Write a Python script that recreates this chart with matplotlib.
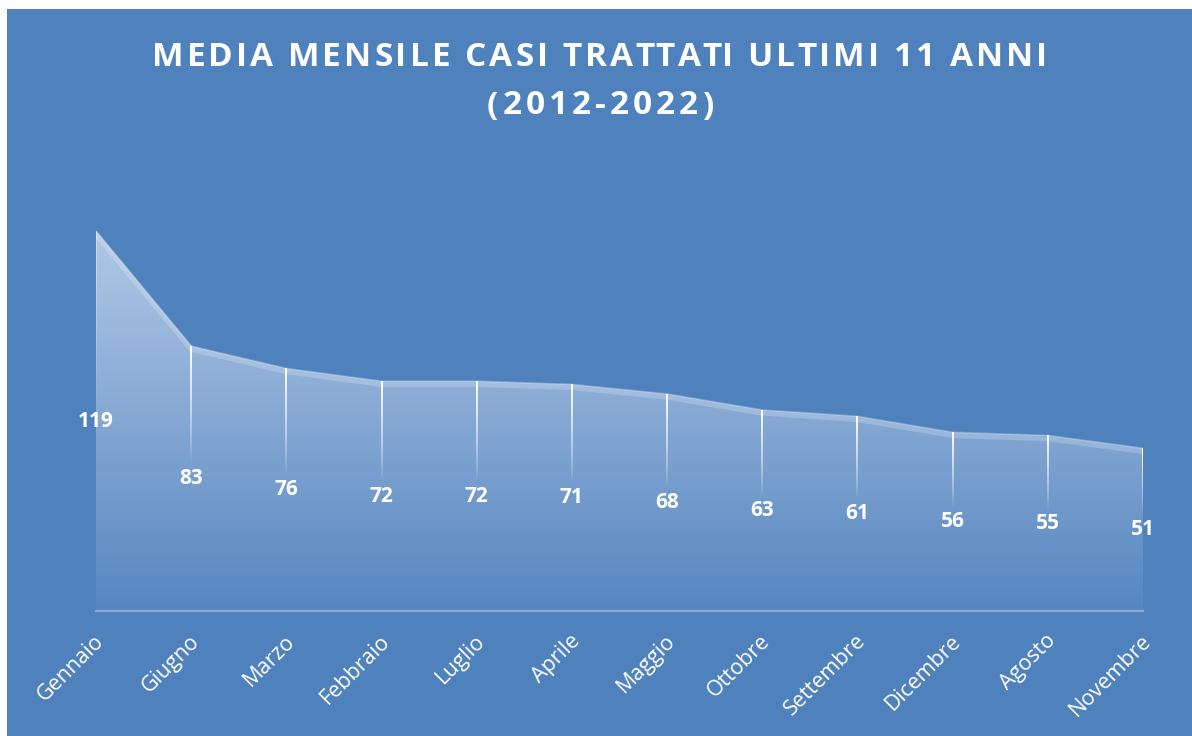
import matplotlib
matplotlib.use('Agg')
import matplotlib.pyplot as plt
import numpy as np
from matplotlib.collections import LineCollection
from matplotlib.patches import Rectangle
from matplotlib.font_manager import FontProperties
import matplotlib.transforms as mtransforms

months = ["Gennaio", "Giugno", "Marzo", "Febbraio", "Luglio", "Aprile",
          "Maggio", "Ottobre", "Settembre", "Dicembre", "Agosto", "Novembre"]
values = [119, 83, 76, 72, 72, 71, 68, 63, 61, 56, 55, 51]
title_lines = ["MEDIA MENSILE CASI TRATTATI ULTIMI 11 ANNI", "(2012-2022)"]

W, H = 1192, 736
BG = '#4f81bd'
fig = plt.figure(figsize=(W / 100, H / 100), dpi=100, facecolor='white')
fig.add_artist(Rectangle((7 / W, 0), 1 - 7 / W, (H - 9) / H, transform=fig.transFigure,
                         facecolor=BG, edgecolor='none', zorder=0))

ax = fig.add_axes([96 / W, (H - 611) / H, (1143 - 96) / W, (611 - 196) / H])
ax.set_facecolor('none')
ax.set_xlim(0, len(months) - 1)
ax.set_ylim(0, 130)
for s in ax.spines.values():
    s.set_visible(False)
ax.set_xticks([])
ax.set_yticks([])

x = np.arange(len(months))
v = np.array(values, dtype=float)

# gradient fill clipped to area
poly = ax.fill_between(x, 0, v, facecolor='none', edgecolor='none')
N = 256
grad = np.zeros((N, 1, 4))
grad[:, 0, 0] = 0.88
grad[:, 0, 1] = 0.92
grad[:, 0, 2] = 0.98
grad[:, 0, 3] = np.linspace(0.06, 0.68, N)
im = ax.imshow(grad, extent=[0, len(months) - 1, 0, v.max()], origin='lower',
               aspect='auto', zorder=2, interpolation='bilinear')
path = poly.get_paths()[0]
im.set_clip_path(path, transform=ax.transData)

# top band
off = mtransforms.offset_copy(ax.transData, fig=fig, x=0, y=-3, units='dots')
ax.plot(x, v, color='white', alpha=0.2, lw=4, transform=off, zorder=3,
        solid_capstyle='butt')
ax.plot(x, v, color='white', alpha=0.25, lw=1.2, zorder=3)

# baseline
ax.plot([0, len(months) - 1], [0, 0], color='#86a8d6', lw=1.6, zorder=3,
        clip_on=False)

# drop lines with fading
for i, val in enumerate(v):
    y0 = val
    y1 = val / 2 + 4.5
    ys = np.linspace(y0, y1, 60)
    segs = [[(i, ys[k]), (i, ys[k + 1])] for k in range(len(ys) - 1)]
    amax = 0.35 if i == 0 else 0.95
    alphas = np.linspace(amax, 0.0, len(segs)) ** 0.8
    cols = [(1, 1, 1, a) for a in alphas]
    lc = LineCollection(segs, colors=cols, linewidths=1.44, zorder=4,
                        antialiaseds=False, capstyle='butt')
    ax.add_collection(lc)

# data labels
for i, val in enumerate(v):
    ax.text(i, val / 2, f"{int(val)}", color='white', fontsize=15,
            fontweight='bold', family='Open Sans', ha='center', va='center',
            zorder=5)

# category labels
lab_tr = mtransforms.offset_copy(ax.transData, fig=fig, x=5, y=-27, units='dots')
for i, m in enumerate(months):
    ax.text(i, 0, m, color='white', fontsize=15.5, family='Open Sans',
            rotation=45, rotation_mode='anchor', ha='right', va='center',
            transform=lab_tr, zorder=5)

# title with letter spacing
fig.canvas.draw()
renderer = fig.canvas.get_renderer()
prop = FontProperties(family='Open Sans', weight='bold', size=24)
targets = [(152, 1047, 58), (487, 713, 106)]
for line, (xl, xr, yc) in zip(title_lines, targets):
    widths = [renderer.get_text_width_height_descent(line[:k], prop, ismath=False)[0]
              if k > 0 else 0.0 for k in range(len(line) + 1)]
    natural = widths[-1]
    sp = (xr - xl - natural) / (len(line) - 1)
    for k, ch in enumerate(line):
        if ch == ' ':
            continue
        px = xl + widths[k] + k * sp
        fig.text(px / W, (H - yc) / H, ch, color='white', fontproperties=prop,
                 ha='left', va='center')

fig.savefig('out.png', dpi=100, facecolor=fig.get_facecolor())
